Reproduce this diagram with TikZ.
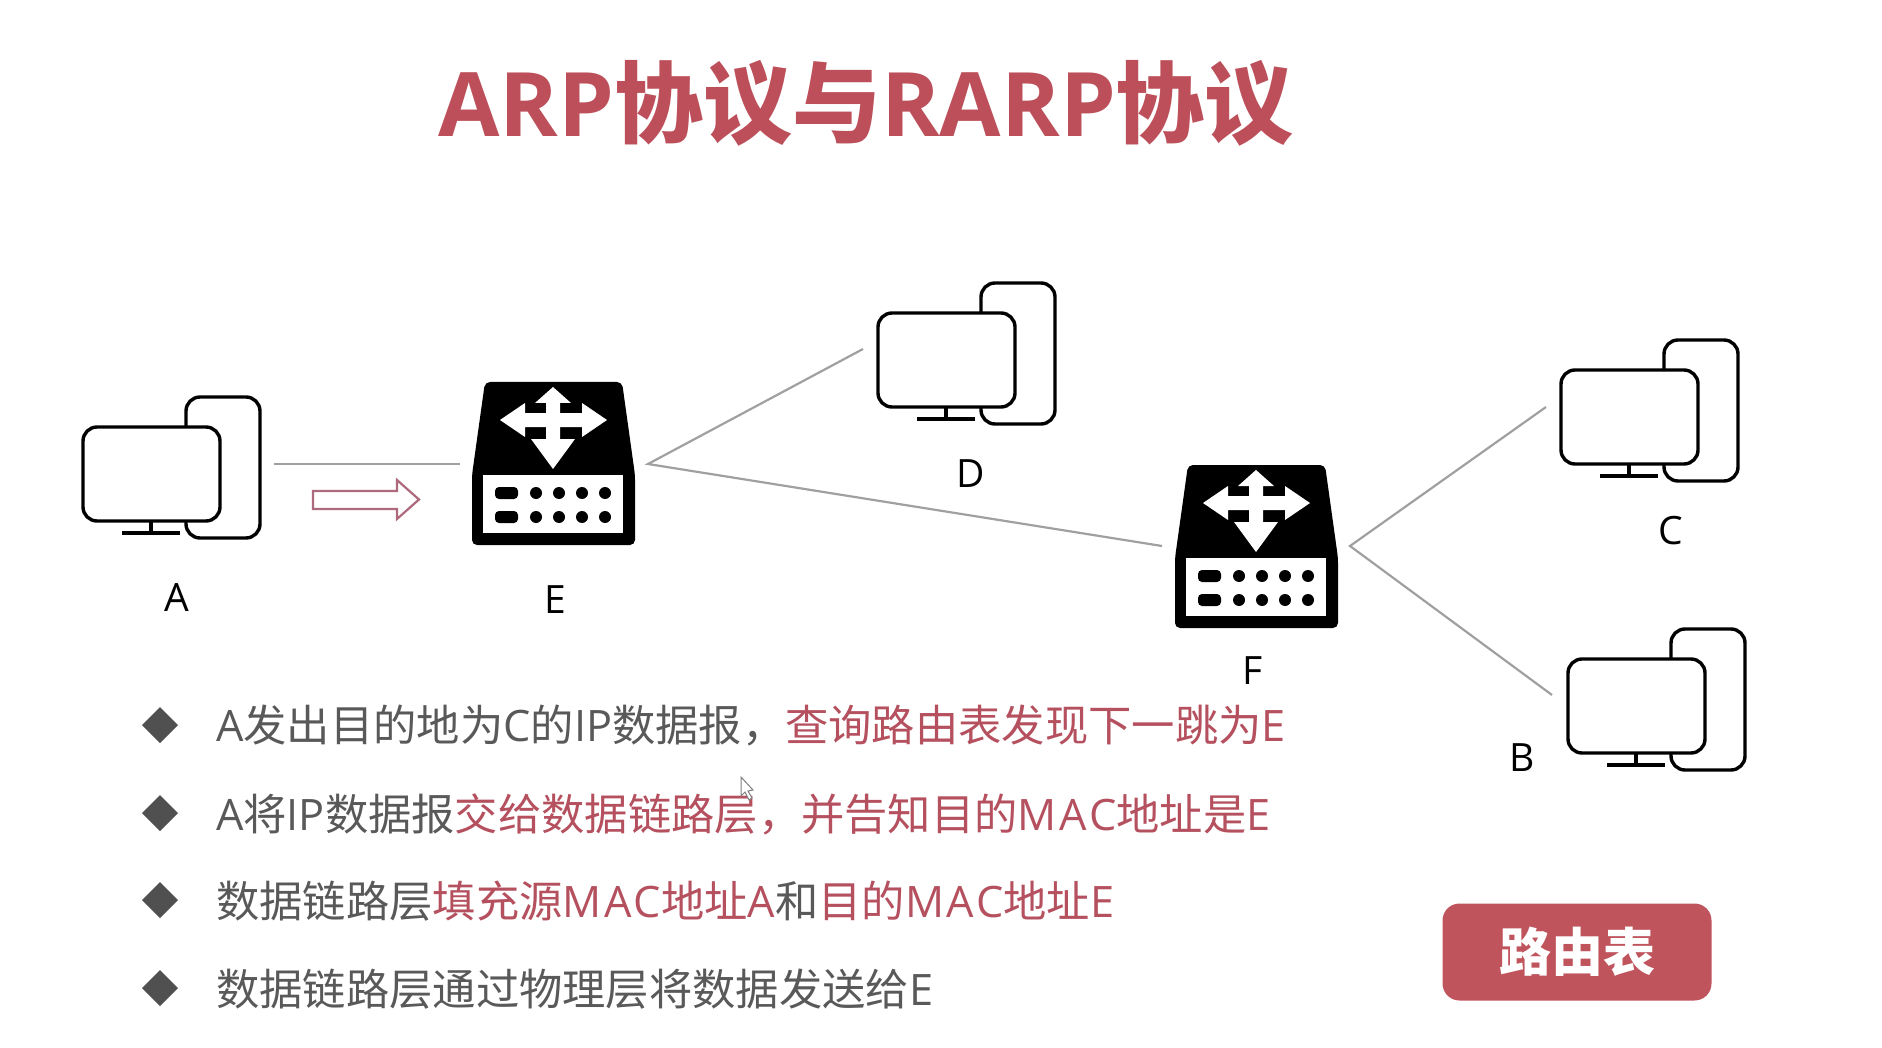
\documentclass[tikz,border=0pt]{standalone}
\usepackage{fontspec}
\setmainfont{Open Sans}
\newfontfamily\cjk{Noto Sans CJK SC}
\definecolor{titlered}{HTML}{BC4F59}
\definecolor{textgray}{HTML}{595959}
\definecolor{textred}{HTML}{B5505F}
\definecolor{linegray}{HTML}{A0A0A0}
\definecolor{arrowred}{HTML}{AE6A7C}
\definecolor{btnred}{HTML}{C0545C}
\newcommand{\zh}[1]{{\cjk #1}}
\newcommand{\hl}[1]{\textcolor{textred}{#1}}
\newcommand{\mac}{{\addfontfeatures{LetterSpace=6.5}MAC}}
\tikzset{
    link/.style={draw=linegray,line width=2.2pt},
    hostlabel/.style={text=black,font=\fontsize{39}{39}\selectfont},
    bullet/.style={fill=textgray!90!black,line width=0pt},
    item/.style={anchor=west,inner sep=0pt,text=textgray,font=\fontsize{43.3}{44}\selectfont},
    pc/.pic={
        \draw[line width=3.4pt,rounded corners=14pt,fill=white] (103,-30) rectangle (177,111);
        \draw[line width=3.4pt,rounded corners=14pt,fill=white] (0,0) rectangle (137,94);
        \draw[line width=3.4pt] (68,94)--(68,106);
        \draw[line width=3.4pt] (39,106)--(97,106);
    },
    router/.pic={
        \fill[black,rounded corners=5pt] (13,0)--(150,0)--(163,93)--(163,163)--(0,163)--(0,93)--cycle;
        \fill[white] (11,93) rectangle (151,151);
        \fill[white] (81,5)--(99,21)--(88,21)--(88,31)--(110,31)--(110,21)--(135,38)--(110,55)--(110,45)--(88,45)--(88,57)--(103,57)--(81,87)--(59,57)--(74,57)--(74,45)--(53,45)--(53,55)--(28,38)--(53,21)--(53,31)--(74,31)--(74,21)--(63,21)--cycle;
        \fill[black,rounded corners=4pt] (23,105) rectangle (46,117);
        \fill[black,rounded corners=4pt] (23,129) rectangle (46,141);
        \foreach \x in {64,87,110,133}{
            \fill[black] (\x,111) circle (6);
            \fill[black] (\x,135) circle (6);
        }
    }
}
\begin{document}
\begin{tikzpicture}[x=1pt,y=-1pt]
    \useasboundingbox (0,0) rectangle (1882,1048);
    \node[text=titlered,font=\fontsize{89}{89}\selectfont\bfseries] (title) at (866,103) {ARP\zh{协议与}RARP\zh{协议}};
    \pic at (83,427) {pc};
    \pic at (878,313) {pc};
    \pic at (1561,370) {pc};
    \pic at (1568,659) {pc};
    \pic at (472,382) {router};
    \pic at (1175,465) {router};
    \node[hostlabel] (a) at (177,598) {A};
    \node[hostlabel] (e) at (555,600) {E};
    \node[hostlabel] (d) at (971,474) {D};
    \node[hostlabel] (f) at (1253,671) {F};
    \node[hostlabel] (c) at (1671,531) {C};
    \node[hostlabel] (b) at (1522,758) {B};
    \coordinate (aport) at (274,464);
    \coordinate (eleft) at (460,464);
    \coordinate (eright) at (648,464);
    \coordinate (dport) at (863,349);
    \coordinate (fleft) at (1162,546);
    \coordinate (fright) at (1350,546);
    \coordinate (cport) at (1546,407);
    \coordinate (bport) at (1552,695);
    \draw[link] (aport)--(eleft);
    \draw[link] (dport)--(eright)--(fleft);
    \draw[link] (cport)--(fright)--(bport);
    \draw[arrowred,line width=2.2pt,fill=white] (313,491)--(397,491)--(397,480)--(419,499.5)--(397,519)--(397,509)--(313,509)--cycle;
    \foreach \y in {725,813,900,988}{
        \fill[bullet] (160,\y-18)--(178,\y)--(160,\y+18)--(142,\y)--cycle;
    }
    \node[item] (line1) at (216,726) {A\zh{发出目的地为}C\zh{的}IP\zh{数据报，}\hl{\zh{查询路由表发现下一跳为}E}};
    \node[item] (line2) at (216,814) {A\zh{将}IP\zh{数据报}\hl{\zh{交给数据链路层，并告知目的}\mac\zh{地址是}E}};
    \node[item] (line3) at (216,901) {\zh{数据链路层}\hl{\zh{填充源}\mac\zh{地址}A}\zh{和}\hl{\zh{目的}\mac\zh{地址}E}};
    \node[item] (line4) at (216,989) {\zh{数据链路层通过物理层将数据发送给}E};
    \node[fill=btnred,rounded corners=17pt,minimum width=269pt,minimum height=97pt,inner sep=0pt,text=white,font=\fontsize{52}{52}\selectfont\bfseries] (table) at (1577,952) {\zh{路由表}};
    \draw[gray,line width=1pt,fill=white] (741,777)--(741,796)--(745,792)--(749,800)--(752,798)--(748,791)--(753,790)--cycle;
\end{tikzpicture}
\end{document}
